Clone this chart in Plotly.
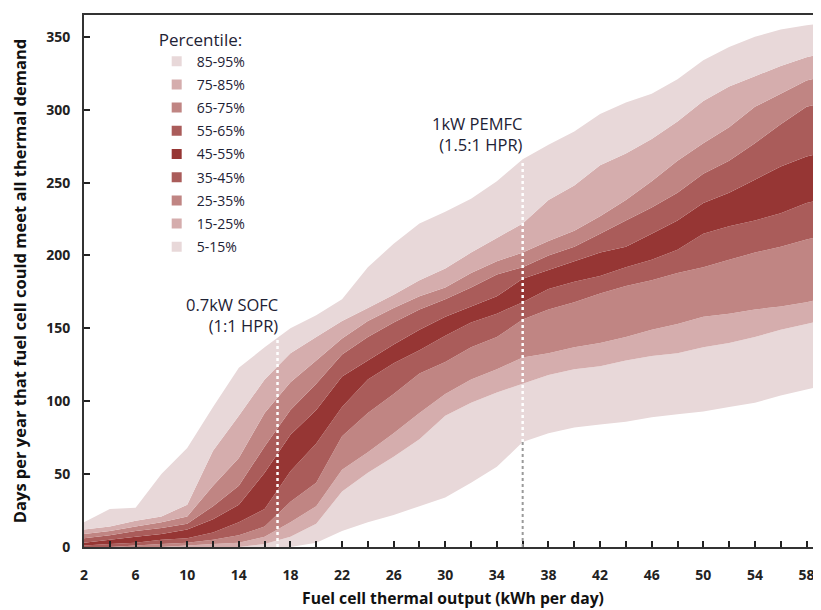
import plotly.graph_objects as go

# ---- data ----
x = [2, 4, 6, 8, 10, 12, 14, 16, 18, 20, 22, 24, 26, 28, 30, 32, 34, 36, 38, 40,
     42, 44, 46, 48, 50, 52, 54, 56, 58, 59]

p95 = [17, 26, 27, 50, 68, 96, 123, 137, 150, 159, 170, 192, 208, 222, 230, 239, 251, 266, 276, 285,
       297, 305, 311, 321, 334, 343, 350, 355, 358, 359]
p85 = [12, 14, 18, 21, 29, 66, 90, 115, 133, 144, 155, 164, 173, 183, 191, 202, 212, 222, 238, 248,
       262, 270, 280, 292, 306, 316, 323, 330, 336, 338]
p75 = [9, 11, 14, 17, 21, 42, 61, 92, 113, 128, 143, 155, 164, 172, 178, 188, 196, 202, 210, 217,
       227, 238, 251, 265, 277, 288, 302, 311, 320, 322]
p65 = [6, 8, 11, 13, 16, 28, 42, 69, 94, 112, 132, 144, 154, 163, 170, 178, 187, 192, 200, 206,
       215, 224, 233, 243, 256, 265, 277, 290, 302, 304]
p55 = [3, 5, 7, 9, 12, 19, 29, 51, 77, 94, 117, 128, 139, 149, 158, 165, 172, 184, 190, 196,
       202, 206, 215, 224, 236, 243, 252, 261, 268, 270]
p45 = [1, 2, 3, 5, 6, 10, 17, 26, 52, 71, 96, 115, 126, 135, 145, 154, 160, 168, 177, 182,
       186, 192, 197, 204, 215, 220, 224, 229, 236, 238]
p35 = [0, 0, 1, 2, 3, 5, 8, 14, 31, 44, 76, 92, 105, 119, 127, 137, 144, 156, 163, 168,
       174, 179, 183, 188, 192, 197, 202, 206, 211, 213]
p25 = [0, 0, 0, 0, 1, 2, 3, 7, 17, 28, 53, 65, 78, 92, 105, 115, 122, 130, 133, 137,
       140, 144, 149, 153, 158, 160, 163, 165, 168, 170]
p15 = [0, 0, 0, 0, 0, 0, 0, 2, 7, 16, 38, 51, 62, 74, 90, 99, 106, 112, 118, 122,
       124, 128, 131, 133, 137, 140, 144, 149, 153, 155]
p5 = [0, 0, 0, 0, 0, 0, 0, 0, 0, 3, 11, 17, 22, 28, 34, 44, 55, 72, 78, 82,
      84, 86, 89, 91, 93, 96, 99, 104, 108, 110]

band_labels = ["5-15%", "15-25%", "25-35%", "35-45%", "45-55%",
               "55-65%", "65-75%", "75-85%", "85-95%"]
band_colors = ["#e8d8d9", "#d5adad", "#c08583", "#aa5c5a", "#963634",
               "#aa5c5a", "#c08583", "#d5adad", "#e8d8d9"]
boundaries = [p5, p15, p25, p35, p45, p55, p65, p75, p85, p95]

x_ticks = [2, 6, 10, 14, 18, 22, 26, 30, 34, 38, 42, 46, 50, 54, 58]
y_ticks = [0, 50, 100, 150, 200, 250, 300, 350]

# fuel cell markers
fc_x = [17, 36]
fc_top = [143, 265]
fc_labels = ["0.7kW SOFC<br>(1:1 HPR)", "1kW PEMFC<br>(1.5:1 HPR)"]

fig = go.Figure()

for i, (lab, col) in enumerate(zip(band_labels, band_colors)):
    lo = boundaries[i]
    hi = boundaries[i + 1]
    fig.add_trace(go.Scatter(
        x=x + x[::-1], y=hi + lo[::-1], fill="toself", fillcolor=col,
        mode="none", showlegend=False, hoverinfo="skip"))

# legend entries (top: 85-95% ... bottom: 5-15%)
for lab, col in zip(band_labels[::-1], band_colors[::-1]):
    fig.add_trace(go.Scatter(
        x=[None], y=[None], mode="markers", name=lab, legendgroup=lab,
        marker=dict(symbol="square", size=10, color=col)))

# vertical dotted lines
for fx, top in zip(fc_x, fc_top):
    base = p5[x.index(fx)] if fx in x else 0
    if base > 0:
        fig.add_shape(type="line", x0=fx, x1=fx, y0=0, y1=base, xref="x", yref="y",
                      line=dict(color="#9a9a9a", width=2, dash="dot"))
    fig.add_shape(type="line", x0=fx, x1=fx, y0=base, y1=top, xref="x", yref="y",
                  line=dict(color="white", width=2.5, dash="dot"))

ann_font = dict(family="Open Sans", size=16.5, color="#1e2235")
for fx, top, lab, ys in zip(fc_x, fc_top, fc_labels, [0, 3]):
    fig.add_annotation(x=fx, y=top, xref="x", yref="y", text=lab, showarrow=False,
                       xanchor="right", yanchor="bottom", align="right",
                       yshift=ys, xshift=2, font=ann_font)

tick_font = dict(family="Open Sans", size=14, color="#222", weight="bold")
title_font = dict(family="Open Sans", size=15.7, color="#111", weight="bold")
ytitle_font = dict(family="Open Sans", size=16.5, color="#111", weight="bold")

fig.update_layout(
    width=821, height=610,
    margin=dict(l=76, r=7, t=7, b=71, autoexpand=False),
    paper_bgcolor="white", plot_bgcolor="white",
    showlegend=True,
    legend=dict(
        x=0.0985, y=0.984, xanchor="left", yanchor="top",
        bgcolor="rgba(0,0,0,0)", tracegroupgap=2,
        title=dict(text="Percentile:", font=dict(family="Open Sans", size=17, color="#1e2235")),
        font=dict(family="Open Sans", size=14, color="#1e2235"),
    ),
    xaxis=dict(
        range=[2, 59.2], tickmode="array", tickvals=x_ticks,
        ticks="inside", ticklen=6, tickwidth=1.5, tickcolor="#222",
        minor=dict(dtick=2, tick0=2, ticks="inside", ticklen=6, tickwidth=1.5, tickcolor="#222"),
        showline=True, linecolor="#333", linewidth=1.8, mirror=True,
        showgrid=False, zeroline=False, automargin=False,
        tickfont=tick_font, ticklabelstandoff=14,
        title=dict(text="Fuel cell thermal output (kWh per day)", font=title_font, standoff=10),
    ),
    yaxis=dict(
        range=[0, 365], tickmode="array", tickvals=y_ticks,
        ticks="inside", ticklen=6, tickwidth=1.5, tickcolor="#222",
        showline=True, linecolor="#333", linewidth=1.8,
        showgrid=False, zeroline=False, automargin=False,
        tickfont=tick_font, ticklabelstandoff=9,
        title=dict(text="Days per year that fuel cell could meet all thermal demand",
                   font=ytitle_font, standoff=25),
    ),
)

fig.write_html("out.html")
